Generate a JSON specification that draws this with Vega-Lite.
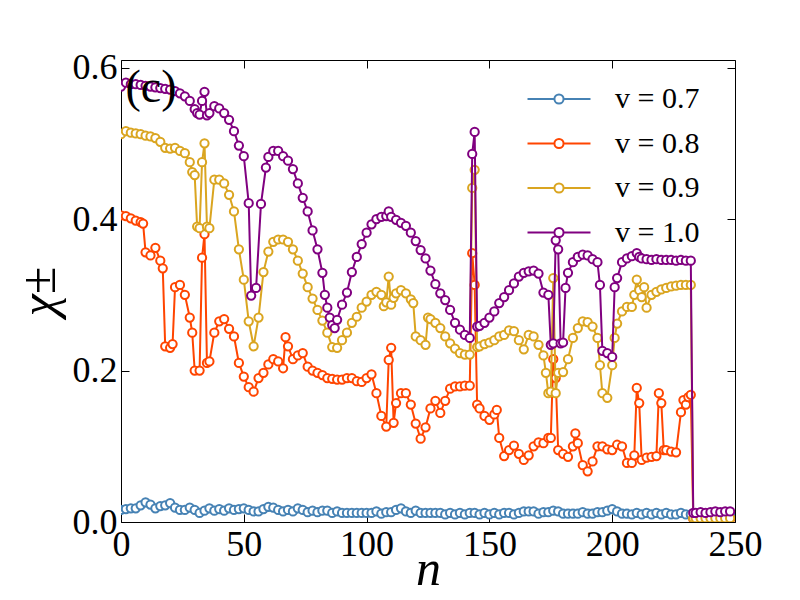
{
  "$schema": "https://vega.github.io/schema/vega-lite/v6.json",
  "description": "chi vs n for four values of v",
  "width": 614,
  "height": 462,
  "autosize": {"type": "none"},
  "padding": {"left": 121, "top": 60, "right": 65, "bottom": 78},
  "background": "white",
  "data": {
    "values": [
      {"n":0,"a":0.016,"b":0.405,"c":0.512,"d":0.575},
      {"n":2,"a":0.017,"b":0.404,"c":0.516,"d":0.58},
      {"n":4,"a":0.018,"b":0.401,"c":0.514,"d":0.578},
      {"n":6,"a":0.018,"b":0.398,"c":0.513,"d":0.578},
      {"n":8,"a":0.022,"b":0.396,"c":0.512,"d":0.577},
      {"n":9,"b":0.394},
      {"n":10,"a":0.026,"b":0.356,"c":0.51,"d":0.576},
      {"n":12,"a":0.023,"b":0.352,"c":0.509,"d":0.575},
      {"n":14,"a":0.018,"b":0.362,"c":0.507,"d":0.574},
      {"n":16,"a":0.021,"b":0.345,"c":0.502,"d":0.573},
      {"n":17,"b":0.335},
      {"n":18,"a":0.022,"b":0.232,"c":0.494,"d":0.572},
      {"n":20,"a":0.025,"b":0.23,"c":0.493,"d":0.571},
      {"n":21,"b":0.235},
      {"n":22,"a":0.019,"b":0.31,"c":0.494,"d":0.569},
      {"n":24,"a":0.016,"b":0.313,"c":0.49,"d":0.566},
      {"n":26,"a":0.016,"b":0.3,"c":0.487,"d":0.562},
      {"n":28,"a":0.019,"b":0.27,"c":0.475,"d":0.556},
      {"n":29,"b":0.25,"c":0.462},
      {"n":30,"a":0.016,"b":0.2,"c":0.458,"d":0.545},
      {"n":31,"c":0.39,"d":0.54},
      {"n":32,"a":0.012,"b":0.2,"c":0.388,"d":0.538},
      {"n":33,"b":0.349,"c":0.475,"d":0.556},
      {"n":34,"a":0.015,"b":0.38,"c":0.5,"d":0.568},
      {"n":35,"b":0.21,"c":0.39,"d":0.537},
      {"n":36,"a":0.018,"b":0.212,"c":0.388,"d":0.54},
      {"n":38,"a":0.015,"b":0.25,"c":0.452,"d":0.549},
      {"n":40,"a":0.017,"b":0.265,"c":0.452,"d":0.546},
      {"n":42,"a":0.015,"b":0.268,"c":0.447,"d":0.54},
      {"n":44,"a":0.018,"b":0.255,"c":0.432,"d":0.531},
      {"n":46,"a":0.016,"b":0.245,"c":0.41,"d":0.516},
      {"n":48,"a":0.017,"b":0.21,"c":0.36,"d":0.497},
      {"n":50,"a":0.018,"b":0.192,"c":0.32,"d":0.483},
      {"n":52,"a":0.016,"b":0.178,"c":0.265,"d":0.421},
      {"n":53,"d":0.299},
      {"n":54,"a":0.014,"b":0.172,"c":0.232},
      {"n":55,"d":0.309},
      {"n":56,"a":0.014,"b":0.19,"c":0.27},
      {"n":57,"d":0.42},
      {"n":58,"a":0.017,"b":0.197,"c":0.33},
      {"n":59,"d":0.468},
      {"n":60,"a":0.02,"b":0.208,"c":0.357,"d":0.482},
      {"n":62,"a":0.019,"b":0.215,"c":0.37,"d":0.49},
      {"n":64,"a":0.016,"b":0.212,"c":0.373,"d":0.49},
      {"n":66,"a":0.014,"b":0.203,"c":0.373,"d":0.483},
      {"n":67,"b":0.244},
      {"n":68,"a":0.016,"b":0.232,"c":0.37,"d":0.477},
      {"n":70,"a":0.014,"b":0.215,"c":0.36,"d":0.466},
      {"n":72,"a":0.018,"b":0.22,"c":0.345,"d":0.447},
      {"n":74,"a":0.016,"b":0.223,"c":0.328,"d":0.428},
      {"n":76,"a":0.013,"b":0.205,"c":0.31,"d":0.41},
      {"n":78,"a":0.015,"b":0.2,"c":0.295,"d":0.385},
      {"n":80,"a":0.013,"b":0.197,"c":0.28,"d":0.36},
      {"n":82,"a":0.015,"b":0.194,"c":0.266,"d":0.329},
      {"n":83,"d":0.3},
      {"n":84,"a":0.015,"b":0.19,"c":0.25,"d":0.283},
      {"n":85,"d":0.27},
      {"n":86,"a":0.012,"b":0.189,"c":0.231,"d":0.26},
      {"n":87,"d":0.256},
      {"n":88,"a":0.014,"b":0.188,"c":0.23,"d":0.267},
      {"n":90,"a":0.012,"b":0.188,"c":0.24,"d":0.287},
      {"n":92,"a":0.012,"b":0.19,"c":0.25,"d":0.303},
      {"n":94,"a":0.012,"b":0.19,"c":0.263,"d":0.33},
      {"n":96,"a":0.012,"b":0.186,"c":0.271,"d":0.35},
      {"n":98,"a":0.012,"b":0.185,"c":0.283,"d":0.367},
      {"n":100,"a":0.012,"b":0.19,"c":0.291,"d":0.382},
      {"n":102,"a":0.012,"b":0.195,"c":0.3,"d":0.393},
      {"n":104,"a":0.014,"b":0.17,"c":0.304,"d":0.4},
      {"n":106,"a":0.011,"b":0.14,"c":0.3,"d":0.403},
      {"n":107,"c":0.285},
      {"n":108,"a":0.013,"b":0.126,"c":0.29,"d":0.404},
      {"n":109,"b":0.214,"c":0.324,"d":0.41},
      {"n":110,"a":0.013,"b":0.23,"c":0.287,"d":0.403},
      {"n":111,"b":0.131,"c":0.296},
      {"n":112,"a":0.016,"b":0.157,"c":0.302,"d":0.399},
      {"n":114,"a":0.018,"b":0.17,"c":0.306,"d":0.395},
      {"n":116,"a":0.014,"b":0.17,"c":0.302,"d":0.391},
      {"n":118,"a":0.012,"b":0.155,"c":0.294,"d":0.382},
      {"n":119,"c":0.289},
      {"n":120,"a":0.015,"b":0.13,"c":0.245,"d":0.371},
      {"n":122,"a":0.012,"b":0.11,"c":0.24,"d":0.359},
      {"n":124,"a":0.012,"b":0.125,"c":0.234,"d":0.348},
      {"n":125,"c":0.27},
      {"n":126,"a":0.012,"b":0.15,"c":0.268,"d":0.332},
      {"n":128,"a":0.012,"b":0.16,"c":0.263,"d":0.314},
      {"n":130,"a":0.012,"b":0.144,"c":0.256,"d":0.302},
      {"n":132,"a":0.01,"b":0.16,"c":0.245,"d":0.293},
      {"n":134,"a":0.012,"b":0.176,"c":0.236,"d":0.28},
      {"n":136,"a":0.01,"b":0.179,"c":0.229,"d":0.263},
      {"n":138,"a":0.012,"b":0.179,"c":0.223,"d":0.254},
      {"n":140,"a":0.01,"b":0.18,"c":0.221,"d":0.247},
      {"n":142,"a":0.012,"b":0.18,"c":0.221,"d":0.243},
      {"n":143,"b":0.355,"c":0.441,"d":0.486},
      {"n":144,"a":0.012,"b":0.313,"c":0.465,"d":0.515},
      {"n":145,"b":0.155,"c":0.231,"d":0.258},
      {"n":146,"a":0.01,"b":0.15,"c":0.232,"d":0.259},
      {"n":148,"a":0.012,"b":0.14,"c":0.235,"d":0.263},
      {"n":150,"a":0.01,"b":0.135,"c":0.237,"d":0.27},
      {"n":152,"a":0.012,"b":0.142,"c":0.24,"d":0.278},
      {"n":153,"b":0.148},
      {"n":154,"a":0.01,"b":0.111,"c":0.245,"d":0.289},
      {"n":156,"a":0.012,"b":0.087,"c":0.247,"d":0.297},
      {"n":158,"a":0.012,"b":0.095,"c":0.253,"d":0.306},
      {"n":160,"a":0.01,"b":0.101,"c":0.252,"d":0.315},
      {"n":162,"a":0.012,"b":0.09,"c":0.24,"d":0.324},
      {"n":164,"a":0.014,"b":0.082,"c":0.228,"d":0.329},
      {"n":166,"a":0.014,"b":0.088,"c":0.247,"d":0.331},
      {"n":168,"a":0.014,"b":0.1,"c":0.245,"d":0.332},
      {"n":170,"a":0.011,"b":0.105,"c":0.234,"d":0.328},
      {"n":172,"a":0.013,"b":0.104,"c":0.22,"d":0.303},
      {"n":173,"c":0.197},
      {"n":174,"a":0.013,"b":0.111,"c":0.17,"d":0.3},
      {"n":175,"b":0.111,"c":0.172,"d":0.234},
      {"n":176,"a":0.015,"b":0.215,"c":0.322,"d":0.236},
      {"n":177,"b":0.19,"c":0.17,"d":0.372},
      {"n":178,"a":0.014,"b":0.095,"c":0.197,"d":0.36},
      {"n":179,"d":0.236},
      {"n":180,"a":0.011,"b":0.09,"c":0.198,"d":0.237},
      {"n":181,"d":0.309},
      {"n":182,"a":0.011,"b":0.086,"c":0.215,"d":0.329},
      {"n":184,"a":0.011,"b":0.1,"c":0.243,"d":0.343},
      {"n":185,"b":0.117},
      {"n":186,"a":0.011,"b":0.104,"c":0.256,"d":0.35},
      {"n":188,"a":0.013,"b":0.075,"c":0.265,"d":0.353},
      {"n":190,"a":0.011,"b":0.067,"c":0.264,"d":0.352},
      {"n":192,"a":0.011,"b":0.08,"c":0.258,"d":0.347},
      {"n":194,"a":0.013,"b":0.1,"c":0.243,"d":0.343},
      {"n":195,"c":0.207,"d":0.313},
      {"n":196,"a":0.013,"b":0.1,"c":0.17,"d":0.226},
      {"n":198,"a":0.015,"b":0.096,"c":0.164,"d":0.223},
      {"n":200,"a":0.017,"b":0.095,"c":0.207,"d":0.218},
      {"n":201,"c":0.243,"d":0.31},
      {"n":202,"a":0.014,"b":0.102,"c":0.262,"d":0.322},
      {"n":204,"a":0.011,"b":0.1,"c":0.278,"d":0.343},
      {"n":206,"a":0.011,"b":0.078,"c":0.284,"d":0.348},
      {"n":208,"a":0.01,"b":0.078,"c":0.284,"d":0.351},
      {"n":209,"b":0.088,"c":0.3},
      {"n":210,"a":0.012,"b":0.177,"c":0.32,"d":0.355},
      {"n":211,"b":0.157,"c":0.306,"d":0.35},
      {"n":212,"a":0.01,"b":0.082,"c":0.297,"d":0.348},
      {"n":213,"c":0.31},
      {"n":214,"a":0.012,"b":0.085,"c":0.283,"d":0.347},
      {"n":216,"a":0.01,"b":0.086,"c":0.3,"d":0.346},
      {"n":218,"a":0.012,"b":0.087,"c":0.304,"d":0.347},
      {"n":219,"b":0.17},
      {"n":220,"a":0.01,"b":0.157,"c":0.307,"d":0.346},
      {"n":221,"b":0.095},
      {"n":222,"a":0.012,"b":0.095,"c":0.309,"d":0.346},
      {"n":224,"a":0.01,"b":0.093,"c":0.311,"d":0.346},
      {"n":226,"a":0.01,"b":0.092,"c":0.312,"d":0.345},
      {"n":228,"a":0.012,"b":0.145,"c":0.313,"d":0.346},
      {"n":229,"b":0.161},
      {"n":230,"a":0.01,"b":0.155,"c":0.313,"d":0.345},
      {"n":231,"b":0.165},
      {"n":232,"a":0.01,"b":0.168,"c":0.313,"d":0.345},
      {"n":233,"b":0.004,"c":0.005,"d":0.012},
      {"n":234,"a":0.01,"b":0.004,"c":0.005,"d":0.012},
      {"n":236,"a":0.01,"b":0.004,"c":0.005,"d":0.013},
      {"n":238,"a":0.011,"b":0.004,"c":0.005,"d":0.012},
      {"n":240,"a":0.01,"b":0.004,"c":0.005,"d":0.013},
      {"n":242,"a":0.01,"b":0.004,"c":0.005,"d":0.014},
      {"n":244,"a":0.011,"b":0.004,"c":0.005,"d":0.013},
      {"n":246,"a":0.01,"b":0.004,"c":0.005,"d":0.014},
      {"n":248,"a":0.01,"b":0.004,"c":0.005,"d":0.014}
    ]
  },
  "layer": [
    {
      "encoding": {
        "x": {
          "field": "n",
          "type": "quantitative",
          "scale": {"domain": [0, 250], "nice": false},
          "axis": {"values": [0, 50, 100, 150, 200, 250], "title": "n"}
        }
      },
      "layer": [
        {
          "transform": [{"filter": "isValid(datum.a)"}],
          "mark": {"type": "line", "clip": true, "strokeWidth": 2,
                   "point": {"filled": false, "fill": "white", "size": 68, "strokeWidth": 2, "clip": true}},
          "encoding": {
            "y": {"field": "a", "type": "quantitative",
                  "scale": {"domain": [0, 0.61], "nice": false},
                  "axis": {"values": [0, 0.2, 0.4, 0.6], "format": ".1f", "title": "χ±"}},
            "color": {"datum": "v = 0.7", "type": "nominal",
                      "scale": {"domain": ["v = 0.7", "v = 0.8", "v = 0.9", "v = 1.0"],
                                "range": ["#4682b4", "#ff4500", "#daa520", "#800080"]},
                      "legend": {"orient": "none", "legendX": 421, "legendY": 22, "title": null}}
          }
        },
        {
          "transform": [{"filter": "isValid(datum.b)"}],
          "mark": {"type": "line", "clip": true, "strokeWidth": 2,
                   "point": {"filled": false, "fill": "white", "size": 68, "strokeWidth": 2, "clip": true}},
          "encoding": {
            "y": {"field": "b", "type": "quantitative",
                  "axis": {"values": [0, 0.2, 0.4, 0.6], "format": ".1f", "title": "χ±"}},
            "color": {"datum": "v = 0.8", "type": "nominal"}
          }
        },
        {
          "transform": [{"filter": "isValid(datum.c)"}],
          "mark": {"type": "line", "clip": true, "strokeWidth": 2,
                   "point": {"filled": false, "fill": "white", "size": 68, "strokeWidth": 2, "clip": true}},
          "encoding": {
            "y": {"field": "c", "type": "quantitative",
                  "axis": {"values": [0, 0.2, 0.4, 0.6], "format": ".1f", "title": "χ±"}},
            "color": {"datum": "v = 0.9", "type": "nominal"}
          }
        },
        {
          "transform": [{"filter": "isValid(datum.d)"}],
          "mark": {"type": "line", "clip": true, "strokeWidth": 2,
                   "point": {"filled": false, "fill": "white", "size": 68, "strokeWidth": 2, "clip": true}},
          "encoding": {
            "y": {"field": "d", "type": "quantitative",
                  "axis": {"values": [0, 0.2, 0.4, 0.6], "format": ".1f", "title": "χ±"}},
            "color": {"datum": "v = 1.0", "type": "nominal"}
          }
        }
      ]
    },
    {
      "data": {"values": [{"n": 12.2, "y": 0.573, "t": "(c)"}]},
      "mark": {"type": "text", "font": "Liberation Serif", "fontSize": 46, "align": "center", "baseline": "middle", "color": "black"},
      "encoding": {
        "x": {"field": "n", "type": "quantitative",
              "axis": {"orient": "top", "labels": false, "title": null, "values": [0, 50, 100, 150, 200, 250]}},
        "y": {"field": "y", "type": "quantitative",
              "axis": {"orient": "right", "labels": false, "title": null, "values": [0, 0.2, 0.4, 0.6]}},
        "text": {"field": "t"}
      }
    }
  ],
  "resolve": {"axis": {"x": "independent", "y": "independent"}},
  "config": {
    "view": {"stroke": "black", "strokeWidth": 1},
    "axis": {
      "domain": false,
      "grid": false,
      "tickColor": "black",
      "tickSize": -8,
      "tickWidth": 1,
      "labelFont": "Liberation Serif",
      "labelFontSize": 36,
      "labelColor": "black",
      "labelFlush": false,
      "labelOverlap": false,
      "titleFont": "Liberation Serif",
      "titleFontSize": 50,
      "titleFontStyle": "italic",
      "titleFontWeight": "normal",
      "titleColor": "black"
    },
    "axisBottom": {"labelPadding": 13, "titleBaseline": "alphabetic", "titleY": 62},
    "axisLeft": {"labelPadding": 12, "titlePadding": 8},
    "legend": {
      "padding": 0,
      "symbolType": "M-2,0H-0.29M0.29,0H2M0.29,0A0.29,0.29,0,1,1,-0.29,0A0.29,0.29,0,1,1,0.29,0Z",
      "symbolSize": 992,
      "symbolStrokeWidth": 2,
      "symbolFillColor": "white",
      "labelFont": "Liberation Serif",
      "labelFontSize": 30,
      "labelColor": "black",
      "labelOffset": 39,
      "rowPadding": 12.5,
      "labelLimit": 0
    }
  }
}
